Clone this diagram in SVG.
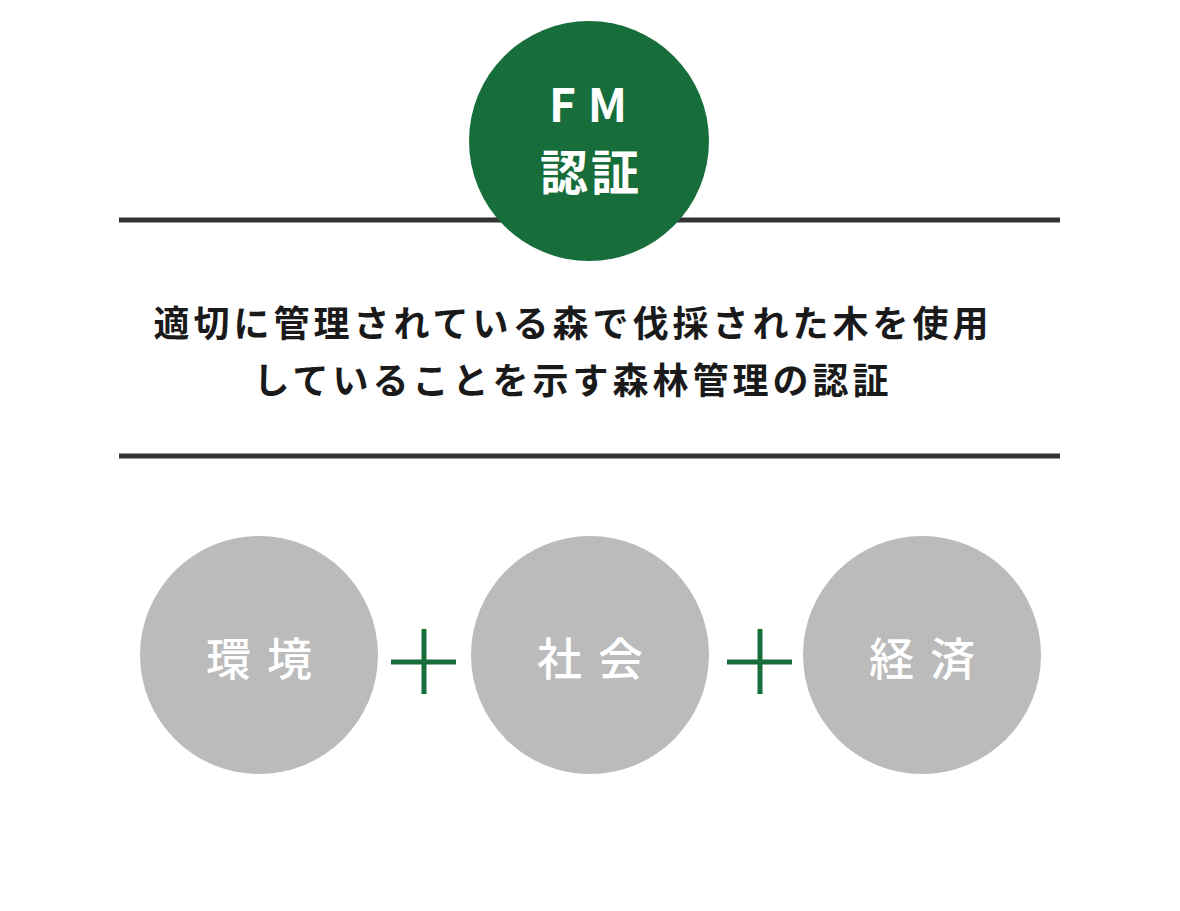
<svg xmlns="http://www.w3.org/2000/svg" width="1180" height="911" viewBox="0 0 1180 911">
<style>
.rule{stroke:#333333;stroke-width:5}
.plus{stroke:#176e3a;stroke-width:5}
.gc{fill:#bbbbbb}
.jp{font-family:"Noto Sans CJK JP","Noto Sans",sans-serif;font-weight:bold}
.lbl{fill:#ffffff;font-size:45px;letter-spacing:16px;text-anchor:middle;font-weight:500}
.desc{fill:#1a1a1a;font-size:36px;letter-spacing:4px;text-anchor:middle}
</style>
<rect width="1180" height="911" fill="#ffffff"/>
<g id="connectors">
<line class="rule" x1="119" y1="220" x2="1060" y2="220"/>
<line class="rule" x1="119" y1="456" x2="1060" y2="456"/>
<line class="plus" x1="391" y1="662" x2="456" y2="662"/>
<line class="plus" x1="424" y1="629" x2="424" y2="694"/>
<line class="plus" x1="727" y1="662" x2="792" y2="662"/>
<line class="plus" x1="760" y1="629" x2="760" y2="694"/>
</g>
<g id="fm">
<circle cx="589" cy="141" r="120" fill="#176e3a"/>
<text class="jp" x="594" y="122" fill="#ffffff" font-size="46" letter-spacing="12" text-anchor="middle" font-family="Roboto,'Liberation Sans',sans-serif">FM</text>
<text class="jp" x="591" y="190" fill="#ffffff" font-size="48" letter-spacing="3" text-anchor="middle">認証</text>
</g>
<g id="description">
<text class="jp desc" x="573" y="337">適切に管理されている森で伐採された木を使用</text>
<text class="jp desc" x="573" y="394">していることを示す森林管理の認証</text>
</g>
<g id="env">
<circle class="gc" cx="259" cy="655" r="119"/>
<text class="jp lbl" x="267" y="676">環境</text>
</g>
<g id="society">
<circle class="gc" cx="590" cy="655" r="119"/>
<text class="jp lbl" x="598" y="676">社会</text>
</g>
<g id="economy">
<circle class="gc" cx="922" cy="655" r="119"/>
<text class="jp lbl" x="930" y="676">経済</text>
</g>
</svg>
